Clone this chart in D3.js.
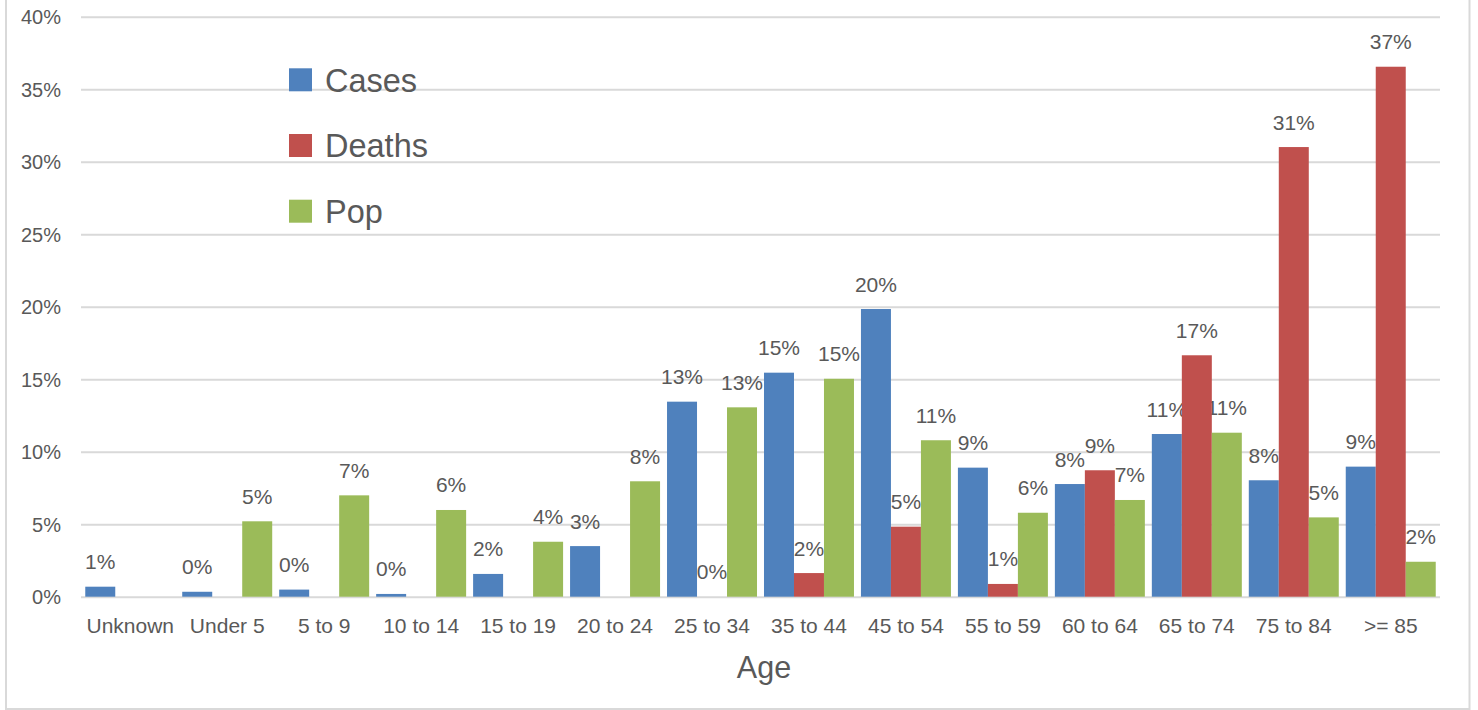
<!DOCTYPE html>
<html>
<head>
<meta charset="utf-8">
<script src="https://cdn.jsdelivr.net/npm/d3@7"></script>
<style>
  html, body { margin: 0; padding: 0; background: #fff; }
  svg { display: block; }
  text { font-family: "Liberation Sans", Arial, sans-serif; fill: #595959; }
</style>
</head>
<body>
<svg id="chart" width="1478" height="710"></svg>
<script>
const categories = ["Unknown", "Under 5", "5 to 9", "10 to 14", "15 to 19", "20 to 24", "25 to 34",
  "35 to 44", "45 to 54", "55 to 59", "60 to 64", "65 to 74", "75 to 84", ">= 85"];
const seriesNames = ["Cases", "Deaths", "Pop"];
const cases  = [0.69, 0.34, 0.49, 0.19, 1.57, 3.49, 13.45, 15.45, 19.84, 8.90, 7.77, 11.22, 8.03, 8.97];
const deaths = [null, null, null, null, null, null, 0, 1.63, 4.83, 0.88, 8.72, 16.65, 31.01, 36.55];
const pop    = [null, 5.20, 6.99, 5.98, 3.79, 7.96, 13.06, 15.03, 10.79, 5.79, 6.67, 11.31, 5.47, 2.41];
const yTicks = [0, 5, 10, 15, 20, 25, 30, 35, 40];
const colors = ["#4F81BD", "#C0504D", "#9BBB59"];
const xTitle = "Age";

(function () {
const values = [cases, deaths, pop];
const svg = d3.select("#chart");

// frame
svg.append("rect").attr("x", 6).attr("y", -2).attr("width", 1463.5).attr("height", 711)
  .attr("fill", "none").attr("stroke", "#D9D9D9").attr("stroke-width", 2);

const pLeft = 81, pRight = 1440, pTop = 16.7, pBottom = 596.7;
const x0 = d3.scaleBand().domain(categories).range([pLeft, pRight]).paddingInner(0.072).paddingOuter(0.044);
const x1 = d3.scaleBand().domain(seriesNames).range([0, x0.bandwidth()]);
const y = d3.scaleLinear().domain([0, 40]).range([pBottom, pTop]);

// gridlines
const yAxis = d3.axisLeft(y).tickValues(yTicks).tickSize(-(pRight - pLeft)).tickFormat(d => d + "%").tickPadding(20);
const gy = svg.append("g").attr("transform", `translate(${pLeft},0)`).call(yAxis);
gy.select(".domain").remove();
gy.selectAll(".tick line").attr("stroke", "#D9D9D9").attr("stroke-width", 2);
gy.selectAll(".tick text").attr("font-size", 20).attr("fill", "#595959")
  .attr("font-family", "Liberation Sans, Arial, sans-serif").attr("dy", "0.36em");

// x axis labels
const xAxis = d3.axisBottom(x0).tickSize(0).tickPadding(0);
const gx = svg.append("g").attr("transform", `translate(0,${pBottom})`).call(xAxis);
gx.select(".domain").remove();
gx.selectAll(".tick text").attr("font-size", 21).attr("fill", "#595959")
  .attr("font-family", "Liberation Sans, Arial, sans-serif").attr("y", 36.6).attr("dy", 0);

// data
const data = [];
categories.forEach((c, i) => {
  seriesNames.forEach((s, j) => {
    const v = values[j][i];
    if (v !== null && v !== undefined) data.push({ c, s, v, j });
  });
});

const fmt = d3.format(".0%");
// labels (drawn under bars, as in the reference)
svg.append("g").selectAll("text").data(data).join("text")
  .attr("x", d => x0(d.c) + x1(d.s) + x1.bandwidth() / 2)
  .attr("y", d => y(d.v) - 17.5)
  .attr("text-anchor", "middle")
  .attr("font-size", 21)
  .text(d => fmt(d.v / 100));

// bars
svg.append("g").selectAll("rect").data(data.filter(d => d.v > 0)).join("rect")
  .attr("x", d => x0(d.c) + x1(d.s))
  .attr("y", d => y(d.v))
  .attr("width", x1.bandwidth())
  .attr("height", d => y(0) - y(d.v))
  .attr("fill", d => colors[d.j]);

// x title
svg.append("text").attr("x", 764).attr("y", 678.3).attr("text-anchor", "middle")
  .attr("font-size", 30.5).text(xTitle);

// legend
const lg = svg.append("g");
seriesNames.forEach((s, i) => {
  const yy = 68.3 + i * 65.7;
  lg.append("rect").attr("x", 289).attr("y", yy).attr("width", 23).attr("height", 23).attr("fill", colors[i]);
  lg.append("text").attr("x", 325).attr("y", yy + 23.3).attr("font-size", 32.5).text(s);
});
})();
</script>
</body>
</html>
